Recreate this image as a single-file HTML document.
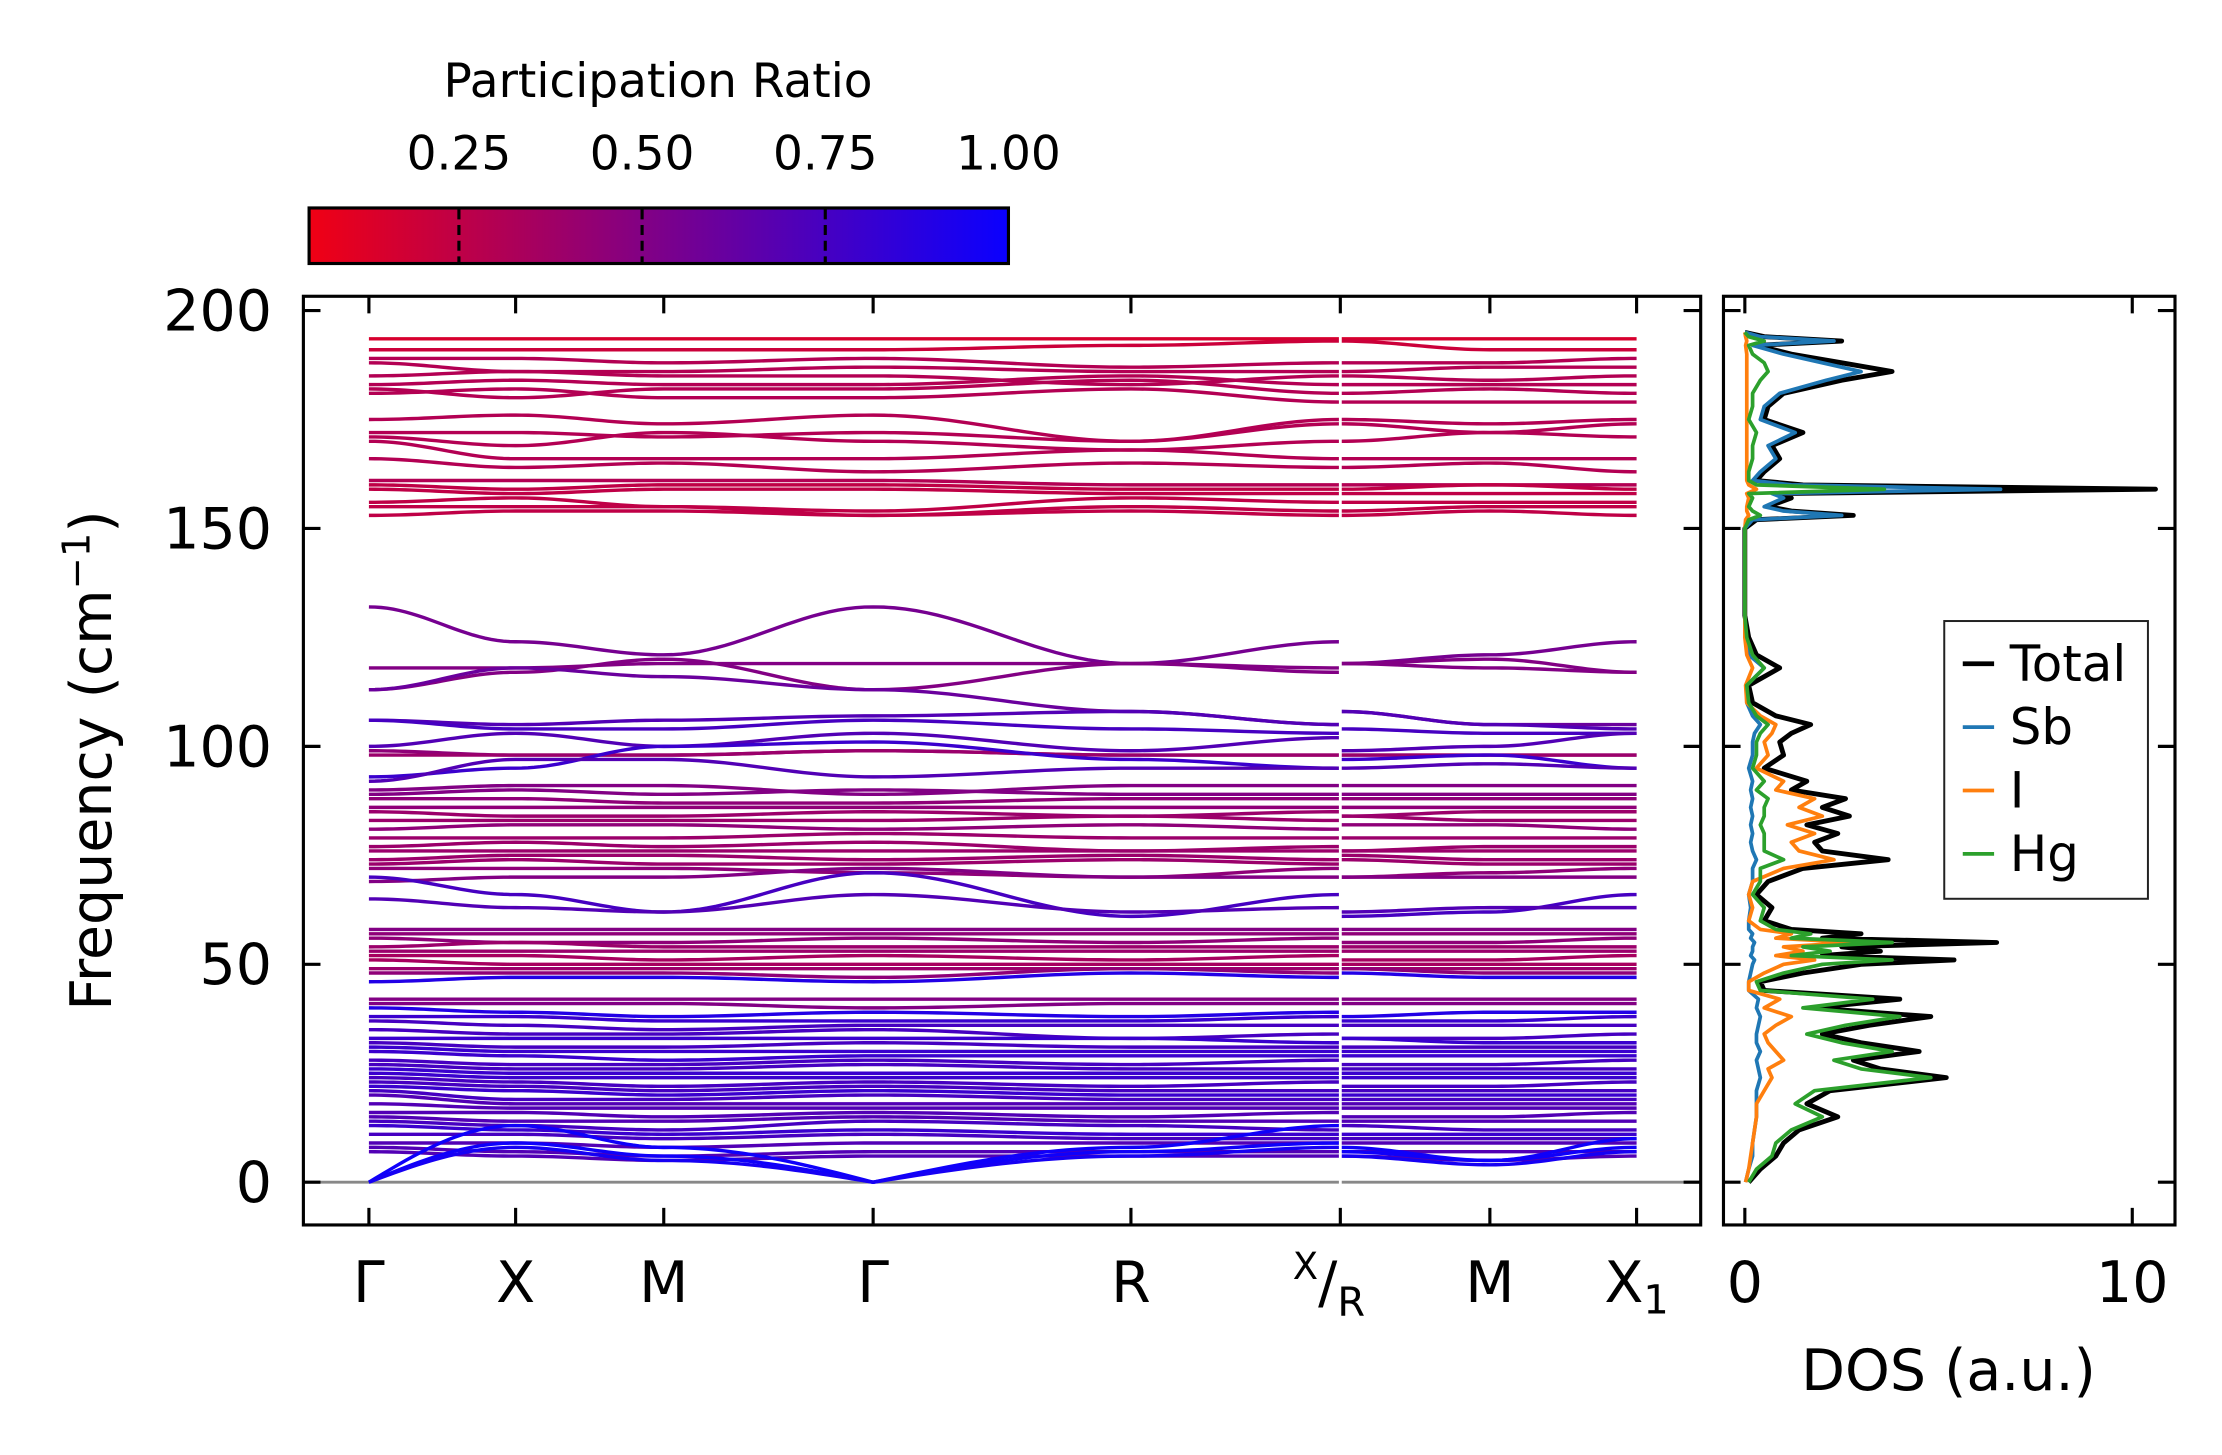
<!DOCTYPE html>
<html><head><meta charset="utf-8">
<style>
html,body{margin:0;padding:0;background:#fff;}
svg{display:block;font-family:"DejaVu Sans","Liberation Sans",sans-serif;}
</style></head>
<body>
<svg id="fig" width="2222" height="1455" viewBox="0 0 1560 1021.5" xmlns="http://www.w3.org/2000/svg">
<defs>
<linearGradient id="cbgrad" x1="0" y1="0" x2="1" y2="0">
<stop offset="0" stop-color="rgb(240,0,20)"/>
<stop offset="1" stop-color="rgb(10,0,255)"/>
</linearGradient>
<clipPath id="clipBand"><rect x="214" y="209" width="979" height="650"/></clipPath>
<clipPath id="clipDos"><rect x="1211" y="209" width="315" height="650"/></clipPath>
</defs>
<g id="colorbar">
<text x="462" y="68" font-size="33" text-anchor="middle">Participation Ratio</text>
<rect x="217" y="146" width="491" height="39" fill="url(#cbgrad)" stroke="#000" stroke-width="2.2"/>
</g>
<g id="bandsAxes"></g>
<g id="dosAxes"></g>
</svg>
<script>
const kLabels = ["Γ","X","M","Γ","R","X/R","M","X1"];
const bandFreqs = [
[193.5,193.5,193.5,193.5,193.5,193.5,193.5,193.5,193.5],
[191,191,191,191,192,193,193,191,191],
[189,189,188,189,187,188,188,188,189],
[188,186,186,187,186,186,186,187,187],
[185,186,185,185,183,185,185,184,185],
[183,184,183,183,185,183,183,183,183],
[182,180,182,182,184,181,181,182,181],
[181,182,180,180,182,179,179,179,179],
[175,176,174,176,170,175,175,174,175],
[172,172,171,172,170,174,174,172,174],
[171,169,172,170,168,170,170,172,171],
[170,166,166,166,168,166,166,166,166],
[166,164,165,163,165,164,164,165,163],
[161,161,161,161,160,160,160,160,160],
[160,159,160,160,159,159,159,160,159],
[159,158,159,159,158,158,158,158,158],
[156,157,155,154,157,156,156,156,156],
[155,155,155,153,155,154,154,155,155],
[153,154,154,153,154,153,153,154,153],
[132,124,121,132,119,124,119,121,124],
[118,118,119,119,119,118,119,120,117],
[113,117,120,113,119,117,119,118,117],
[113,118,116,113,108,105,108,105,105],
[106,105,106,107,108,105,108,105,104],
[106,104,104,106,104,103,104,103,103],
[100,103,100,103,99,102,99,100,103],
[99,98,98,99,98,98,98,98,98],
[98,98,98,99,98,98,98,98,98],
[93,95,100,101,97,95,97,98,95],
[92,97,97,93,95,95,95,96,95],
[90,91,91,89,91,91,91,91,91],
[89,90,89,90,89,89,89,89,89],
[88,88,87,87,88,88,88,88,88],
[86,86,86,86,86,86,86,86,86],
[85,84,84,85,84,85,84,85,85],
[83,83,83,83,84,83,84,83,83],
[81,82,82,81,82,81,82,82,81],
[79,79,79,80,79,79,79,79,79],
[77,78,77,78,76,77,76,77,77],
[76,76,76,76,76,76,76,76,76],
[74,75,75,74,75,74,75,74,74],
[73,74,73,73,74,73,74,73,73],
[72,72,72,71,70,72,70,71,72],
[69,70,70,72,70,70,70,70,70],
[70,66,62,71,61,66,61,62,66],
[65,63,62,66,62,63,62,63,63],
[58,58,58,58,58,58,58,58,58],
[57,57,57,57,57,57,57,57,57],
[56,55,55,56,55,56,55,55,56],
[54,55,54,54,54,54,54,54,54],
[53,53,53,53,53,53,53,53,53],
[52,52,51,52,51,52,51,51,52],
[51,50,50,50,50,50,50,50,50],
[49,49,49,49,49,49,49,49,49],
[48,48,48,47,49,48,49,48,48],
[46,47,47,46,48,47,48,47,47],
[42,42,42,42,42,42,42,42,42],
[41,41,41,40,41,41,41,41,41],
[40,39,38,39,38,39,38,39,39],
[38,38,37,37,37,38,37,37,38],
[37,36,35,36,36,36,36,36,36],
[35,34,34,35,33,34,33,33,34],
[33,33,33,33,33,32,33,32,32],
[32,31,31,32,31,31,31,31,31],
[31,30,30,30,30,30,30,30,30],
[30,29,28,29,29,29,29,29,29],
[28,27,27,28,27,28,27,27,28],
[27,26,26,27,26,26,26,26,26],
[26,25,25,25,25,25,25,25,25],
[25,24,24,24,24,24,24,24,24],
[24,23,22,23,22,23,22,22,23],
[23,22,21,22,21,21,21,21,21],
[22,21,20,21,20,20,20,20,20],
[21,19,19,20,19,19,19,19,19],
[20,18,18,18,18,18,18,18,18],
[18,17,17,17,17,17,17,17,17],
[16,16,15,16,15,16,15,15,16],
[15,14,14,15,14,14,14,14,14],
[14,13,12,14,13,12,13,12,12],
[13,12,11,12,11,11,11,11,11],
[11,11,10,11,10,10,10,10,10],
[9,9,8,9,9,9,9,9,9],
[8,7,6,7,7,7,7,7,7],
[7,6,5,6,6,6,6,5,6],
[0,13,8,0,8,13,8,5,10],
[0,9,6,0,7,9,7,5,8],
[0,8,5,0,6,8,6,4,7]
];
const bandPR = [
.15,.2,.3,.3,.3,.3,.3,.3,.3,.3,.3,.3,.3,.3,.25,.25,.25,.25,.25,
.55,.5,.5,.6,.7,.75,.7,.45,.4,.8,.7,
.5,.5,.45,.45,.4,.4,.45,.4,.4,.4,.4,.4,.45,.5,
.75,.7,.5,.45,.45,.4,.4,.35,.35,.4,.45,.9,
.5,.5,.9,.8,.75,.75,.8,.75,.8,.8,.75,.75,.8,.8,.75,.75,.8,.75,.7,.7,.7,.7,.75,.8,.75,.7,.7,.7,
.98,.98,.95
];
const freqTicks = [0,50,100,150,200];
const cbTicks = [0.25,0.5,0.75,1.0];
const cbTickLabels = ["0.25","0.50","0.75","1.00"];

const dosFreq = [0,3,6,9,12,15,18,21,24,26,28,30,32,34,36,38,40,42,44,46,48,50,51,52,53,54,55,56,57,58,60,63,66,69,72,74,76,78,80,82,84,86,88,90,92,95,98,101,103,105,107,110,114,118,121,125,130,150,152,153,154,155,157,158,159,160,161,163,166,169,172,175,178,181,184,186,188,190,192,193,194,195];
const dosTotal = [0.1,0.4,0.8,1.0,1.4,2.4,1.6,2.2,5.2,3.5,2.8,4.5,3.0,2.0,3.2,4.8,1.8,4.0,0.5,0.4,1.5,3.0,5.4,2.0,3.5,2.5,6.5,2.0,3.0,1.2,0.5,0.7,0.3,0.6,1.5,3.7,2.0,1.8,2.4,1.6,2.7,2.0,2.6,1.2,1.6,0.5,1.0,0.9,1.2,1.7,0.8,0.2,0.1,0.9,0.3,0.1,0,0,0.3,2.8,1.2,0.6,1.2,0.8,10.6,1.5,0.3,0.5,0.9,0.7,1.5,0.5,0.6,1.0,2.5,3.8,2.5,1.2,0.3,2.5,0.5,0];
const dosSb = [0.02,0.1,0.2,0.2,0.25,0.3,0.3,0.3,0.4,0.35,0.3,0.4,0.3,0.3,0.35,0.4,0.3,0.35,0.1,0.1,0.15,0.2,0.25,0.15,0.2,0.2,0.25,0.15,0.2,0.1,0.1,0.15,0.1,0.2,0.2,0.3,0.2,0.15,0.2,0.15,0.2,0.15,0.2,0.15,0.2,0.1,0.2,0.2,0.25,0.4,0.2,0.05,0.05,0.5,0.1,0.02,0,0,0.2,2.5,1.0,0.5,1.0,0.7,6.6,1.2,0.2,0.4,0.8,0.6,1.3,0.4,0.5,0.9,2.1,3.0,2.0,1.0,0.2,2.3,0.4,0];
const dosI = [0.02,0.1,0.15,0.2,0.25,0.3,0.3,0.5,0.7,0.6,1.0,0.8,0.6,0.5,0.8,1.2,0.5,0.9,0.1,0.1,0.5,1.0,1.8,0.8,1.5,1.0,2.8,0.8,1.2,0.4,0.1,0.2,0.1,0.2,1.0,2.3,1.4,1.2,1.8,1.1,2.0,1.4,1.8,0.8,1.0,0.3,0.6,0.5,0.7,0.8,0.4,0.05,0.02,0.2,0.05,0,0,0,0.02,0.1,0.05,0.05,0.1,0.05,0.3,0.1,0.05,0.05,0.05,0.05,0.05,0.05,0.05,0.05,0.05,0.05,0.05,0.05,0.02,0.05,0.02,0];
const dosHg = [0.1,0.3,0.7,0.8,1.2,2.0,1.3,1.8,4.8,3.0,2.3,3.8,2.5,1.6,2.6,4.0,1.5,3.3,0.4,0.3,1.0,2.0,3.8,1.2,2.2,1.5,3.8,1.2,1.7,0.8,0.4,0.5,0.2,0.4,0.4,1.0,0.5,0.5,0.5,0.4,0.5,0.5,0.6,0.3,0.5,0.2,0.3,0.3,0.4,0.6,0.3,0.1,0.05,0.5,0.2,0.05,0,0,0.1,0.4,0.2,0.1,0.2,0.1,3.6,0.3,0.1,0.1,0.2,0.2,0.3,0.1,0.2,0.2,0.4,0.6,0.5,0.2,0.1,0.5,0.1,0];
const dosTicks = [0,10];

const NS = "http://www.w3.org/2000/svg";
function mk(parent, tag, attrs, text){
  const e = document.createElementNS(NS, tag);
  for (const k in attrs) e.setAttribute(k, attrs[k]);
  if (text !== undefined) e.textContent = text;
  parent.appendChild(e);
  return e;
}
const yF = f => 830 - f * (830 - 218) / 200;
const kX = [259,362,466,613,794,941];
const kX2 = [941,1046,1149];
const kTickX = [259,362,466,613,794,941,1046,1149];
const dX = v => 1225 + v * (1497 - 1225) / 10;
const cbX = v => 217 + (v - 0.0455) / (1 - 0.0455) * 491;
function prColor(p){
  const t = Math.max(0, Math.min(1, (p - 0.0455) / (1 - 0.0455)));
  const r = Math.round(240 + (10 - 240) * t), b = Math.round(20 + (255 - 20) * t);
  return `rgb(${r},0,${b})`;
}

const cb = document.getElementById('colorbar');
cbTicks.forEach((v,i)=>{
  const x = cbX(v);
  if (v < 0.999) {
    const l = mk(cb,'line',{x1:x,x2:x,y1:147,y2:184,stroke:'#000','stroke-width':2.2,'stroke-dasharray':'7,4'});
    
    
  }
  const t = mk(cb,'text',{x:x,y:119,'font-size':33,'text-anchor':'middle'},cbTickLabels[i]);
  
  
});

const ba = document.getElementById('bandsAxes');
const bandG = mk(ba,'g',{'clip-path':'url(#clipBand)'});


const zl = mk(bandG,'line',{x1:214,x2:1193,y1:yF(0),y2:yF(0),stroke:'#888','stroke-width':2});


function segPath(xs, vs){
  let d = `M${xs[0]},${yF(vs[0]).toFixed(2)}`;
  for (let s=0; s<xs.length-1; s++){
    const n = 24;
    const lin0 = vs[s] === 0, lin1 = vs[s+1] === 0;
    for (let j=1;j<=n;j++){
      const t=j/n;
      let e;
      if (lin0) e = Math.sin(Math.PI/2*t);
      else if (lin1) e = 1 - Math.cos(Math.PI/2*t);
      else e = (1-Math.cos(Math.PI*t))/2;
      const x = xs[s]+(xs[s+1]-xs[s])*t;
      const f = vs[s]+(vs[s+1]-vs[s])*e;
      d += `L${x.toFixed(2)},${yF(f).toFixed(2)}`;
    }
  }
  return d;
}
bandFreqs.forEach((v,i)=>{
  const col = prColor(bandPR[i]);
  const p1 = mk(bandG,'path',{d:segPath(kX, v.slice(0,6)),fill:'none',stroke:col,'stroke-width':2.4});
  
  
  const p2 = mk(bandG,'path',{d:segPath(kX2, v.slice(6,9)),fill:'none',stroke:col,'stroke-width':2.4});
  
  
});
const gap = mk(ba,'line',{x1:941,x2:941,y1:212,y2:856,stroke:'#fff','stroke-width':2});


const frame = mk(ba,'rect',{x:213,y:208,width:981,height:652,fill:'none',stroke:'#000','stroke-width':2.2});


freqTicks.forEach(f=>{
  const y=yF(f);
  mk(ba,'line',{x1:213,x2:225,y1:y,y2:y,stroke:'#000','stroke-width':2.2});
  mk(ba,'line',{x1:1182,x2:1194,y1:y,y2:y,stroke:'#000','stroke-width':2.2});
  const t=mk(ba,'text',{x:191,y:y+14,'font-size':40,'text-anchor':'end'},String(f));
  
  
});
kTickX.forEach((x,i)=>{
  mk(ba,'line',{x1:x,x2:x,y1:848,y2:860,stroke:'#000','stroke-width':2.2});
  mk(ba,'line',{x1:x,x2:x,y1:208,y2:220,stroke:'#000','stroke-width':2.2});
  let t;
  if (kLabels[i]==='X/R'){
    t=mk(ba,'text',{x:x,y:914,'font-size':40,'text-anchor':'middle'});
    mk(t,'tspan',{'font-size':26,dy:-16,dx:-8},'X');
    mk(t,'tspan',{dy:16},'/');
    mk(t,'tspan',{'font-size':28,dy:10},'R');
  } else if (kLabels[i]==='X1'){
    t=mk(ba,'text',{x:x,y:914,'font-size':40,'text-anchor':'middle'});
    mk(t,'tspan',{},'X');
    mk(t,'tspan',{'font-size':28,dy:8},'1');
  } else {
    t=mk(ba,'text',{x:x,y:914,'font-size':40,'text-anchor':'middle'},kLabels[i]);
  }
  
  
});
const yl = mk(ba,'text',{x:0,y:0,'font-size':40,'text-anchor':'middle',transform:'translate(78,534) rotate(-90)'});


mk(yl,'tspan',{},'Frequency (cm');
mk(yl,'tspan',{'font-size':27,dy:-15},'−1');
mk(yl,'tspan',{dy:15},')');

const da = document.getElementById('dosAxes');
const dosG = mk(da,'g',{'clip-path':'url(#clipDos)'});


function dosPath(vals){
  return vals.map((v,i)=>`${i?'L':'M'}${dX(v).toFixed(2)},${yF(dosFreq[i]).toFixed(2)}`).join('');
}
const series = [[dosTotal,'#000',3.4,'dos-total'],[dosSb,'#1f77b4',2.6,'dos-sb'],[dosI,'#ff7f0e',2.6,'dos-i'],[dosHg,'#2ca02c',2.6,'dos-hg']];
series.forEach(s=>{
  const p=mk(dosG,'path',{d:dosPath(s[0]),fill:'none',stroke:s[1],'stroke-width':s[2],'stroke-linejoin':'round'});
  
  
});
const dframe = mk(da,'rect',{x:1210,y:208,width:317,height:652,fill:'none',stroke:'#000','stroke-width':2.2});


freqTicks.forEach(f=>{
  const y=yF(f);
  mk(da,'line',{x1:1210,x2:1222,y1:y,y2:y,stroke:'#000','stroke-width':2.2});
  mk(da,'line',{x1:1515,x2:1527,y1:y,y2:y,stroke:'#000','stroke-width':2.2});
});
dosTicks.forEach(v=>{
  const x=dX(v);
  mk(da,'line',{x1:x,x2:x,y1:848,y2:860,stroke:'#000','stroke-width':2.2});
  mk(da,'line',{x1:x,x2:x,y1:208,y2:220,stroke:'#000','stroke-width':2.2});
  const t=mk(da,'text',{x:x,y:914,'font-size':40,'text-anchor':'middle'},String(v));
  
  
});
const dl = mk(da,'text',{x:1368,y:976,'font-size':40,'text-anchor':'middle'},'DOS (a.u.)');


const lg = mk(da,'g',{});


mk(lg,'rect',{x:1365,y:436,width:143,height:195,fill:'#fff',stroke:'#222','stroke-width':1.4});
const legItems=[['Total','#000',3.4],['Sb','#1f77b4',2.6],['I','#ff7f0e',2.6],['Hg','#2ca02c',2.6]];
legItems.forEach((it,i)=>{
  const y=466+i*44.5;
  const l=mk(lg,'line',{x1:1378,x2:1400,y1:y,y2:y,stroke:it[1],'stroke-width':it[2]});
  
  
  const t=mk(lg,'text',{x:1411,y:y+12,'font-size':35},it[0]);
  
  
});
</script>
</body></html>
